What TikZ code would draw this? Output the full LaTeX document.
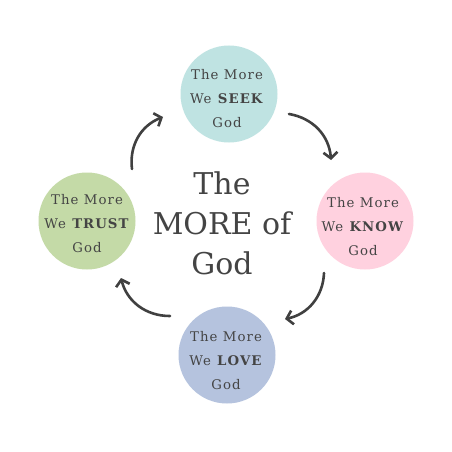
\documentclass[tikz,border=0pt]{standalone}
\usepackage{fontspec}
\setmainfont{DejaVu Serif}
\newfontfamily\spacedserif[LetterSpace=8]{DejaVu Serif}
\usetikzlibrary{arrows.meta}
\definecolor{txt}{HTML}{444444}
\definecolor{arr}{HTML}{404040}
\definecolor{cteal}{HTML}{BFE3E2}
\definecolor{cpink}{HTML}{FFD1DF}
\definecolor{cblue}{HTML}{B5C3DE}
\definecolor{cgreen}{HTML}{C4DAA7}
\tikzset{
  bubble/.style={circle, draw=none, minimum size=97pt, inner sep=0pt},
  bubbletext/.style={text=txt, align=center, inner sep=0pt,
    font=\spacedserif\fontsize{13.3}{24}\selectfont},
  titletext/.style={text=txt, align=center, inner sep=0pt,
    font=\fontsize{30}{40}\selectfont},
  cyclearrow/.style={draw=arr, line width=2.6pt, line cap=round,
    -{Straight Barb[length=6pt,width=14pt,line width=2.6pt]}}
}
\begin{document}
\begin{tikzpicture}[x=1pt,y=-1pt]
\path[fill=white] (0,0) rectangle (452,452);
\useasboundingbox (0,0) rectangle (452,452);
% circles
\node[bubble, fill=cteal] (seek) at (229,94) {};
\node[bubble, fill=cpink] (know) at (365,221) {};
\node[bubble, fill=cblue] (love) at (227,355) {};
\node[bubble, fill=cgreen] (trust) at (87,221) {};
% texts
\node[bubbletext] (seekt) at (227,99) {The More\\We \textbf{SEEK}\\God};
\node[bubbletext] (knowt) at (363,227) {The More\\We \textbf{KNOW}\\God};
\node[bubbletext] (lovet) at (226,361) {The More\\We \textbf{LOVE}\\God};
\node[bubbletext] (trustt) at (87,224) {The More\\We \textbf{TRUST}\\God};
\node[titletext] (title) at (222,223) {The\\MORE of\\God};
% arrow ends
\coordinate (a1s) at (289,114); \coordinate (a1e) at (331,160);
\coordinate (a2s) at (324,273); \coordinate (a2e) at (285,319);
\coordinate (a3s) at (170,316); \coordinate (a3e) at (121,278);
\coordinate (a4s) at (132,169); \coordinate (a4e) at (163,117);
\draw[cyclearrow] (a1s) to[bend left=38] (a1e);
\draw[cyclearrow] (a2s) to[bend left=38] (a2e);
\draw[cyclearrow] (a3s) to[bend left=38] (a3e);
\draw[cyclearrow] (a4s) to[bend left=38] (a4e);
\end{tikzpicture}
\end{document}
